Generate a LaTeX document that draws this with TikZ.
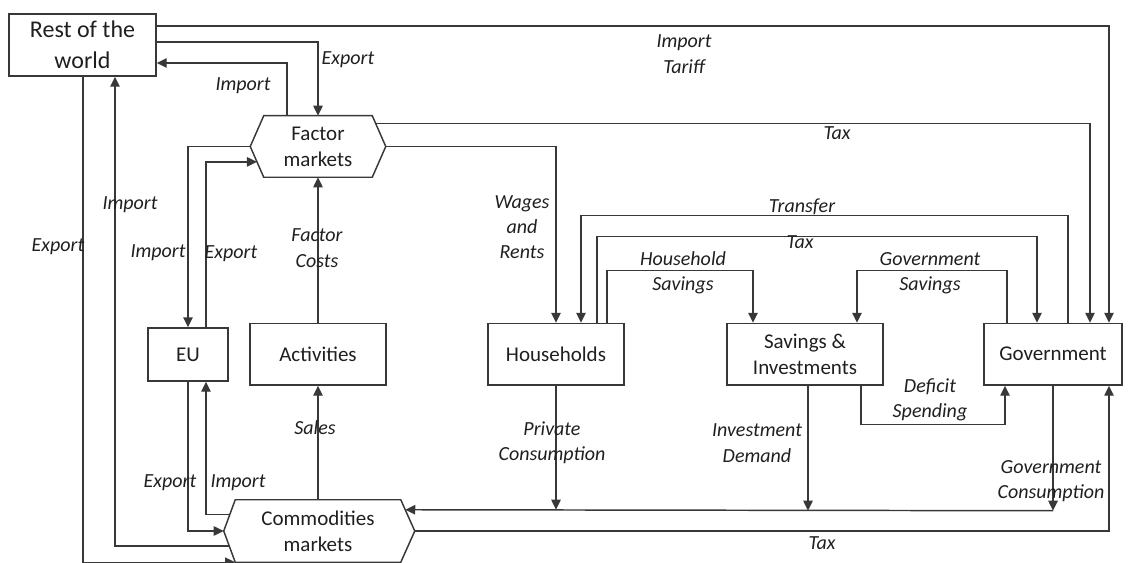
\documentclass[tikz,border=0pt]{standalone}
\usepackage{fontspec}
\setmainfont{Carlito}
\usetikzlibrary{calc,arrows.meta}
\begin{document}
\begin{tikzpicture}[x=0.75pt,y=-0.75pt,
  box/.style={draw=black!78, line width=1.1pt, rectangle, inner sep=0pt, align=center,
    font=\fontsize{15.75}{19.5}\selectfont, text=black!88},
  hexbody/.style={rectangle, inner sep=0pt, align=center,
    font=\fontsize{15.75}{19.5}\selectfont, text=black!88},
  hexline/.style={draw=black!78, line width=1.1pt, line join=miter},
  arr/.style={draw=black!78, line width=1.1pt, -{Triangle[length=7.5pt,width=7pt]}},
  ln/.style={draw=black!78, line width=1.1pt},
  lab/.style={font=\fontsize{15}{19}\selectfont\itshape, text=black!88, align=center, inner sep=0pt}
]
\useasboundingbox (0,0) rectangle (1129,563);

% nodes
\node[box, minimum width=110.25pt, minimum height=46.5pt,
  font=\fontsize{18}{23}\selectfont] (row) at (82.5,45) {Rest of the\\world};
\node[hexbody, minimum width=81pt, minimum height=45.75pt] (fm) at (318,146.5) {Factor\\markets};
\node[box, minimum width=60pt, minimum height=39.75pt] (eu) at (188,354.5) {EU};
\node[box, minimum width=102pt, minimum height=46.125pt] (act) at (318,354.25) {Activities};
\node[box, minimum width=102pt, minimum height=46.125pt] (hh) at (556,354.25) {Households};
\node[box, minimum width=117pt, minimum height=46.125pt] (si) at (805,354.25) {Savings \&\\Investments};
\node[box, minimum width=103.5pt, minimum height=46.125pt] (gov) at (1053,354.25) {Government};
\node[hexbody, minimum width=123.75pt, minimum height=46.5pt] (cm) at (318,531) {Commodities\\markets};

% hexagon outlines
\coordinate (fmR) at ($(fm.east)+(13.5,0)$);
\coordinate (fmL) at ($(fm.west)+(-13.5,0)$);
\draw[hexline] (fm.north west) -- (fm.north east) -- (fmR) -- (fm.south east)
  -- (fm.south west) -- (fmL) -- cycle;
\coordinate (cmR) at ($(cm.east)+(14,0)$);
\coordinate (cmL) at ($(cm.west)+(-11.5,0)$);
\draw[hexline] (cm.north west) -- (cm.north east) -- (cmR) -- (cm.south east)
  -- (cm.south west) -- (cmL) -- cycle;

% attach points on slanted edges
\coordinate (fmRU) at ($(fm.north east)!0.26!(fmR)$);
\coordinate (fmLL) at ($(fmL)!0.5!(fm.south west)$);
\coordinate (cmRU) at ($(cm.north east)!0.32!(cmR)$);
\coordinate (cmLU) at ($(cm.north west)!0.48!(cmL)$);
\coordinate (cmLL) at ($(cmL)!0.48!(cm.south west)$);

% connectors
\draw[arr] ($(row.east)+(0,-19)$) -| ($(gov.north)+(56,0)$);
\draw[arr] ($(row.east)+(0,-3)$) -| (fm.north);
\draw[arr] ($(fm.north)+(-31,0)$) |- ($(row.east)+(0,18)$);
\draw[arr] (fmRU) -| ($(gov.north)+(37,0)$);
\draw[arr] (fmR) -| (hh.north);
\draw[arr] (fmL) -| (eu.north);
\draw[arr] ($(eu.north)+(18,0)$) |- (fmLL);
\draw[arr] (act.north) -- (fm.south);
\draw[arr] (cm.north) -- (act.south);
\draw[arr] (eu.south) |- (cmL);
\draw[arr] (cmLU) -| ($(eu.south)+(18,0)$);
\draw[arr] (cmLL) -| ($(row.south)+(32.5,0)$);
\draw[arr] ($(row.south)+(0.5,0)$) |- (cm.south west);

\draw[arr] ($(gov.north)+(15,0)$) -- ++(0,-107) -| ($(hh.north)+(25,0)$);
\draw[arr] ($(hh.north)+(41,0)$) -- ++(0,-86) -| ($(gov.north)+(-16,0)$);
\draw[arr] ($(hh.north)+(51,0)$) -- ++(0,-52) -| ($(si.north)+(-52,0)$);
\draw[arr] ($(gov.north)+(-46,0)$) -- ++(0,-52) -| ($(si.north)+(52,0)$);
\draw[arr] ($(si.south)+(56,0)$) -- ++(0,39) -| ($(gov.south)+(-48,0)$);

\draw[arr] (gov.south) -- ++(0,125) coordinate (busR);
\draw[arr] (busR) -- (cmRU);
\draw[arr] (hh.south) -- (hh.south |- cmRU);
\draw[arr] ($(si.south)+(3,0)$) -- ++(0,125);
\draw[arr] (cmR) -| ($(gov.south)+(56,0)$);

% labels
\node[lab] (l1) at (684,54) {Import\\Tariff};
\node[lab] (l2) at (348,60) {Export};
\node[lab] (l3) at (243,86) {Import};
\node[lab] (l4) at (837,133) {Tax};
\node[lab] (l5) at (130,205) {Import};
\node[lab] (l6) at (58,247) {Export};
\node[lab] (l7) at (158,253) {Import};
\node[lab] (l8) at (231,254) {Export};
\node[lab] (l9) at (317,248) {Factor\\Costs};
\node[lab] (l10) at (522,227) {Wages\\and\\Rents};
\node[lab] (l11) at (802,207) {Transfer};
\node[lab] (l12) at (800,242) {Tax};
\node[lab] (l13) at (683,273) {Household\\Savings};
\node[lab] (l14) at (930,273) {Government\\Savings};
\node[lab] (l15) at (930,400) {Deficit\\Spending};
\node[lab] (l16) at (552,443) {Private\\Consumption};
\node[lab] (l17) at (757,443) {Investment\\Demand};
\node[lab] (l18) at (1051,481) {Government\\Consumption};
\node[lab] (l19) at (315,428) {Sales};
\node[lab] (l20) at (170,483) {Export};
\node[lab] (l21) at (238,483) {Import};
\node[lab] (l22) at (822,543) {Tax};
\end{tikzpicture}
\end{document}
